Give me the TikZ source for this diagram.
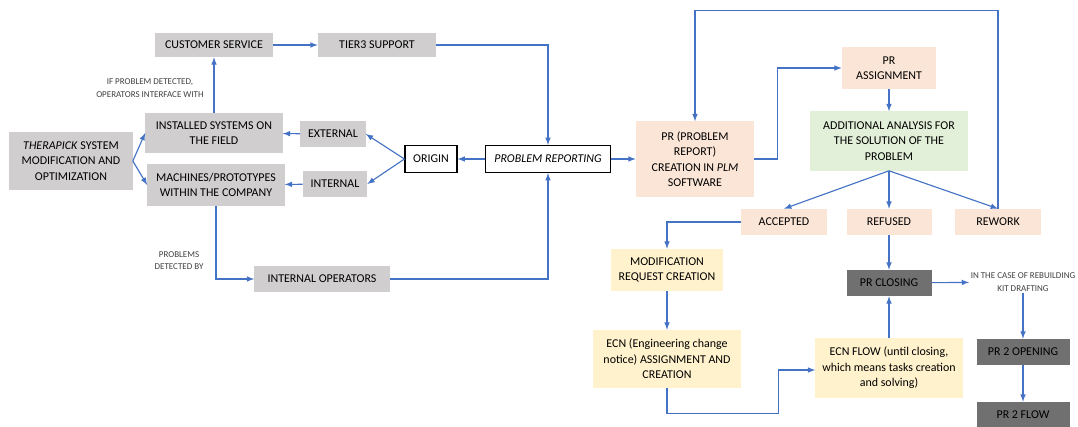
\documentclass[tikz,border=0pt]{standalone}
\usepackage{fontspec}
\setmainfont{Carlito}
\usetikzlibrary{arrows, positioning, calc}

\definecolor{boxgray}{HTML}{D0CECE}
\definecolor{darkbox}{HTML}{707070}
\definecolor{peach}{HTML}{FBE5D6}
\definecolor{palegreen}{HTML}{E2F0D9}
\definecolor{paleyellow}{HTML}{FFF2CC}
\definecolor{flowblue}{HTML}{4472C4}

\begin{document}
\begin{tikzpicture}[
    x=0.025cm, y=-0.025cm,
    every node/.style={font=\fontsize{8.5}{11}\selectfont, align=center, inner sep=1pt},
    gbox/.style={rectangle, fill=boxgray},
    obox/.style={rectangle, draw=black, line width=0.8pt, fill=white},
    pbox/.style={rectangle, fill=peach},
    ybox/.style={rectangle, fill=paleyellow},
    dbox/.style={rectangle, fill=darkbox},
    note/.style={font=\fontsize{6.4}{9}\selectfont, text=black!75},
    arrow/.style={-latex, flowblue, line width=0.8pt}
]
    \useasboundingbox (0,0) rectangle (1078,427);

    % Field side
    \node[gbox, minimum width=2.95cm, minimum height=0.6cm] (cs) at (214,45) {CUSTOMER SERVICE};
    \node[gbox, minimum width=2.95cm, minimum height=0.6cm] (tier) at (377,45) {TIER3 SUPPORT};
    \node[gbox, minimum width=3.075cm, minimum height=1.45cm] (thera) at (71,161) {\textit{THERAPICK} SYSTEM\\MODIFICATION AND\\OPTIMIZATION};
    \node[gbox, minimum width=3.425cm, minimum height=1.0cm] (inst) at (214,133) {INSTALLED SYSTEMS ON\\THE FIELD};
    \node[gbox, minimum width=3.425cm, minimum height=1.025cm] (mach) at (216,185) {MACHINES/PROTOTYPES\\WITHIN THE COMPANY};
    \node[gbox, minimum width=1.625cm, minimum height=0.65cm] (ext) at (333,134) {EXTERNAL};
    \node[gbox, minimum width=1.6cm, minimum height=0.65cm] (int) at (335,184) {INTERNAL};
    \node[gbox, minimum width=3.375cm, minimum height=0.65cm] (iop) at (322,279) {INTERNAL OPERATORS};
    \node[obox, minimum width=1.3cm, minimum height=0.675cm] (origin) at (431,159) {ORIGIN};
    \node[obox, minimum width=3.125cm, minimum height=0.675cm] (prep) at (548,159) {\textit{PROBLEM REPORTING}};

    % PR side
    \node[pbox, minimum width=2.95cm, minimum height=1.875cm] (prc) at (695,159) {PR (PROBLEM\\REPORT)\\CREATION IN \textit{PLM}\\SOFTWARE};
    \node[pbox, minimum width=2.35cm, minimum height=1.05cm] (pra) at (889,68) {PR\\ASSIGNMENT};
    \node[rectangle, fill=palegreen, minimum width=3.925cm, minimum height=1.475cm] (add) at (889,141) {ADDITIONAL ANALYSIS FOR\\THE SOLUTION OF THE\\PROBLEM};
    \node[pbox, minimum width=2.125cm, minimum height=0.65cm] (acc) at (784,222) {ACCEPTED};
    \node[pbox, minimum width=2.125cm, minimum height=0.65cm] (ref) at (889,222) {REFUSED};
    \node[pbox, minimum width=2.15cm, minimum height=0.65cm] (rew) at (998,222) {REWORK};
    \node[ybox, minimum width=2.8cm, minimum height=1.05cm] (mod) at (667,270) {MODIFICATION\\REQUEST CREATION};
    \node[ybox, minimum width=3.7cm, minimum height=1.45cm] (ecn) at (667,359) {ECN (Engineering change\\notice) ASSIGNMENT AND\\CREATION};
    \node[ybox, minimum width=3.675cm, minimum height=1.475cm] (ecnf) at (889,368) {ECN FLOW (until closing,\\which means tasks creation\\and solving)};
    \node[dbox, minimum width=2.125cm, minimum height=0.65cm] (prcl) at (889,283) {PR CLOSING};
    \node[dbox, minimum width=2.325cm, minimum height=0.65cm] (pr2o) at (1023,352) {PR 2 OPENING};
    \node[dbox, minimum width=2.325cm, minimum height=0.625cm] (pr2f) at (1023,414.5) {PR 2 FLOW};

    % Labels
    \node[note] (lbl1) at (150,88) {IF PROBLEM DETECTED,\\OPERATORS INTERFACE WITH};
    \node[note] (lbl2) at (179,260.5) {PROBLEMS\\DETECTED BY};
    \node[note] (kit) at (1023,282) {IN THE CASE OF REBUILDING\\KIT DRAFTING};

    % Connections
    \draw[arrow] (cs) -- (tier);
    \draw[arrow] (tier.east) -| (prep.north);
    \draw[arrow] (inst) -- (cs);
    \draw[arrow] (thera.east) -- (inst.west);
    \draw[arrow] (thera.east) -- (mach.west);
    \draw[arrow] (ext) -- (inst);
    \draw[arrow] (int) -- (mach);
    \draw[arrow] (origin.west) -- (ext.east);
    \draw[arrow] (origin.west) -- (int.east);
    \draw[arrow] (prep) -- (origin);
    \draw[arrow] (prep) -- (prc);
    \draw[arrow] (mach.south) |- (iop.west);
    \draw[arrow] (iop.east) -| (prep.south);

    \draw[arrow] (prc.east) -- ++(23,0) |- (pra.west);
    \draw[arrow] (pra) -- (add);
    \draw[arrow] (add.south) -- (acc.north);
    \draw[arrow] (add) -- (ref);
    \draw[arrow] (add.south) -- (rew.north);
    \draw[arrow] (rew.north) -- ++(0,-198) -| (prc.north);
    \draw[arrow] (acc.west) -| (mod.north);
    \draw[arrow] (mod) -- (ecn);
    \draw[arrow] (ecn.south) -- ++(0,25) -| ($(ecnf.west)+(-37,2)$) -- ($(ecnf.west)+(0,2)$);
    \draw[arrow] (ref) -- (prcl);
    \draw[arrow] (ecnf) -- (prcl);
    \draw[arrow] (prcl) -- (kit);
    \draw[arrow] (kit) -- (pr2o);
    \draw[arrow] (pr2o) -- (pr2f);

\end{tikzpicture}
\end{document}
